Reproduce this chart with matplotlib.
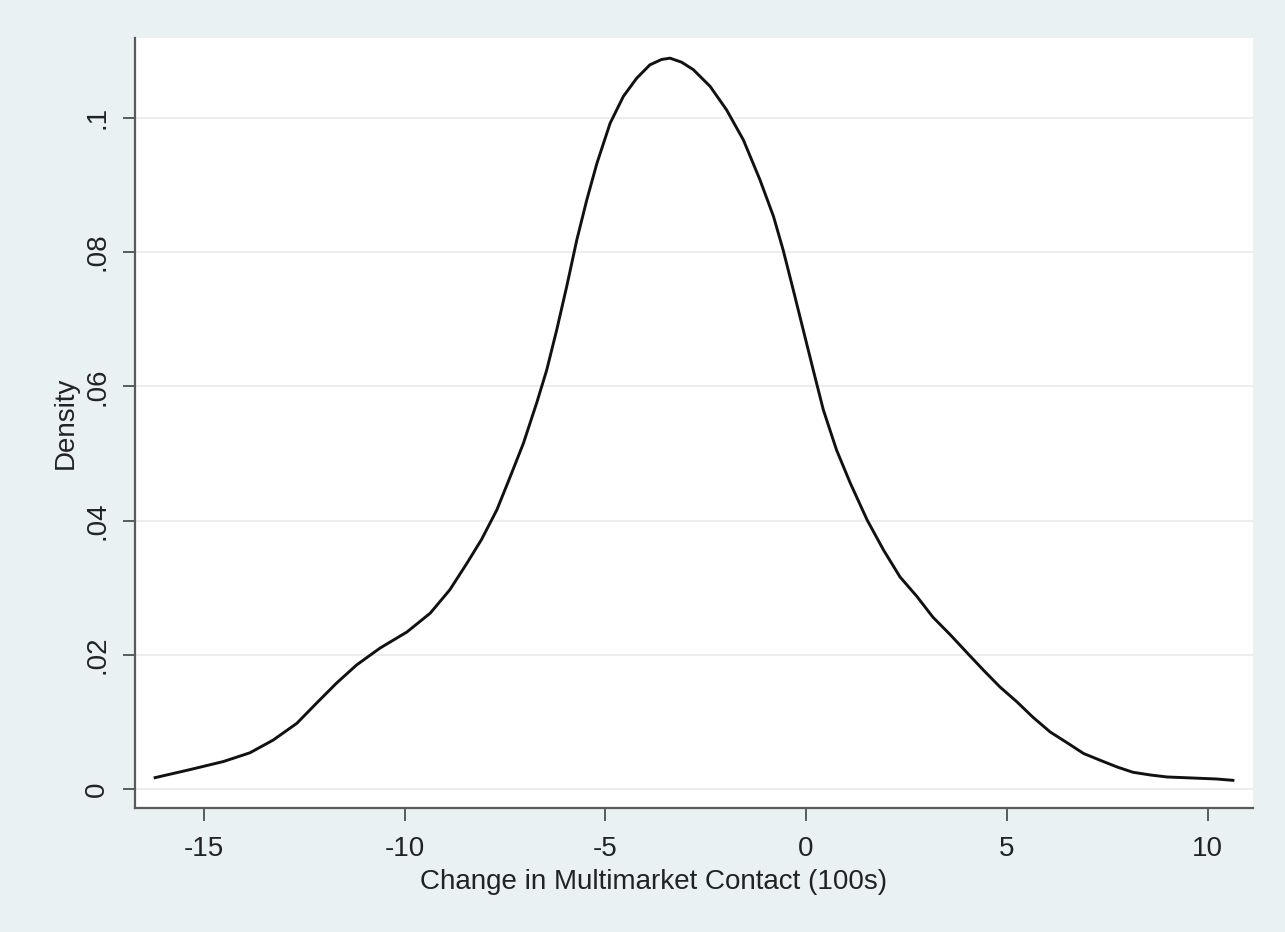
import numpy as np
import matplotlib.pyplot as plt
from matplotlib.ticker import FuncFormatter

plt.rcParams['font.family'] = ['Liberation Sans', 'DejaVu Sans']
plt.rcParams['axes.unicode_minus'] = False

# kernel density curve
x_vals = [-16.21, -15.34, -14.51, -13.85, -13.27, -12.68, -12.19, -11.69, -11.19,
          -10.61, -9.94, -9.36, -8.87, -8.45, -8.08, -7.70, -7.37, -7.04, -6.71,
          -6.46, -6.21, -5.96, -5.71, -5.46, -5.21, -4.88, -4.55, -4.22, -3.89,
          -3.60, -3.39, -3.10, -2.81, -2.39, -1.98, -1.56, -1.15, -0.81, -0.57,
          -0.32, -0.07, 0.18, 0.43, 0.76, 1.10, 1.39, 1.52, 1.93, 2.34, 2.76,
          3.16, 3.59, 4.01, 4.42, 4.83, 5.25, 5.65, 6.08, 6.50, 6.91, 7.32,
          7.74, 8.14, 8.57, 8.99, 9.40, 9.81, 10.22, 10.63]
density = [0.0017, 0.0029, 0.0041, 0.0054, 0.0073, 0.0098, 0.0128, 0.0158, 0.0185,
           0.0210, 0.0234, 0.0262, 0.0297, 0.0336, 0.0372, 0.0416, 0.0465, 0.0515, 0.0575,
           0.0624, 0.0684, 0.0749, 0.0818, 0.0878, 0.0932, 0.0992, 0.1032, 0.1059, 0.1079,
           0.1087, 0.1089, 0.1083, 0.1072, 0.1047, 0.1012, 0.0967, 0.0908, 0.0853, 0.0803,
           0.0744, 0.0684, 0.0624, 0.0565, 0.0505, 0.0456, 0.0418, 0.0401, 0.0356, 0.0316, 0.0287,
           0.0256, 0.0230, 0.0203, 0.0177, 0.0152, 0.0130, 0.0107, 0.0085, 0.0069, 0.0053, 0.0043,
           0.0033, 0.0025, 0.0021, 0.0018, 0.0017, 0.0016, 0.0015, 0.0013]

x_ticks = [-15, -10, -5, 0, 5, 10]
y_ticks = [0, 0.02, 0.04, 0.06, 0.08, 0.1]

bg = '#eaf1f3'
fig = plt.figure(figsize=(12.85, 9.32), dpi=100, facecolor=bg)
ax = fig.add_axes([0.1051, 0.1330, 0.8700, 0.8262])
ax.set_facecolor('white')

ax.plot(x_vals, density, color='#111111', lw=2.1, solid_joinstyle='round')

ax.set_xlim(-16.71, 11.13)
ax.set_ylim(-0.00283, 0.1119)
ax.set_xticks(x_ticks)
ax.set_yticks(y_ticks)

def fmt_y(v, pos):
    if v == 0:
        return '0'
    return ('%g' % v).replace('0.', '.', 1)

ax.yaxis.set_major_formatter(FuncFormatter(fmt_y))
ax.grid(axis='y', color='#ececec', lw=1.3)
ax.set_axisbelow(True)

for s in ['top', 'right']:
    ax.spines[s].set_visible(False)
for s in ['left', 'bottom']:
    ax.spines[s].set_color('#5a5a5a')
    ax.spines[s].set_linewidth(1.6)

ax.tick_params(axis='both', direction='out', length=9, width=1.4, color='#5a5a5a',
               labelsize=20, labelcolor='#222222')
ax.tick_params(axis='x', pad=11)
ax.tick_params(axis='y', pad=9)
for lab in ax.get_yticklabels():
    lab.set_rotation(90)
    lab.set_va('center')

# Stata centres the axis title on the graph region, a bit left of the plot centre
ax.set_xlabel('Change in Multimarket Contact (100s)', fontsize=20, color='#222222',
              labelpad=5, x=0.464)
ax.set_ylabel('Density', fontsize=20, color='#222222', labelpad=4)

fig.savefig('out.png', dpi=100, facecolor=bg)
